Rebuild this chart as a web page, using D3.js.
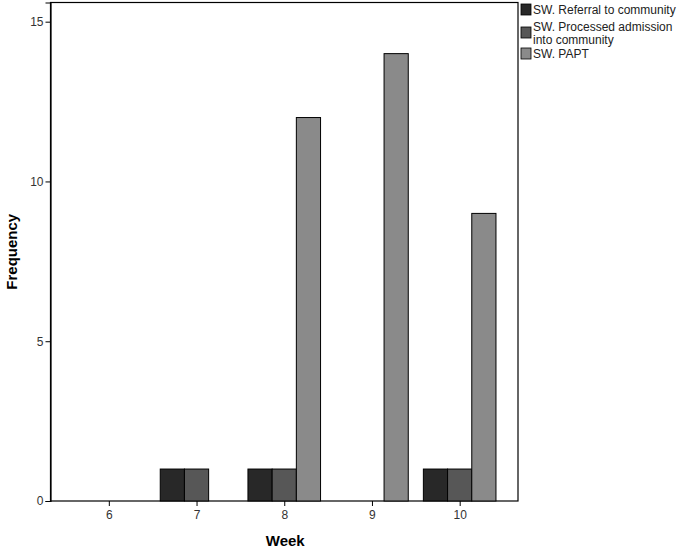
<!DOCTYPE html>
<html>
<head>
<meta charset="utf-8">
<script src="https://cdn.jsdelivr.net/npm/d3@7"></script>
<style>
  body { margin: 0; background: #fff; }
  text { font-family: Arial, "Liberation Sans", sans-serif; }
</style>
</head>
<body>
<div id="chart"></div>
<script>
// data
const weeks = ["6", "7", "8", "9", "10"];
const seriesNames = ["SW. Referral to community", "SW. Processed admission into community", "SW. PAPT"];
const referral = [0, 1, 1, 0, 1];
const processed = [0, 1, 1, 0, 1];
const papt = [0, 0, 12, 14, 9];
const yTicks = [0, 5, 10, 15];
const seriesColors = ["#282828", "#575757", "#8a8a8a"];

let width = 682;
let height = 552;
let margin = { left: 50.5, top: 2.5, right: 164, bottom: 51 };
let plotRight = width - margin.right; // ~518
let plotBottom = height - margin.bottom; // 501

let svg = d3.select("#chart").append("svg")
  .attr("width", width)
  .attr("height", height);

const x = d3.scalePoint()
  .domain(weeks)
  .range([margin.left, plotRight])
  .padding(0.665);

const y = d3.scaleLinear()
  .domain([0, 15.6])
  .range([plotBottom, margin.top]);

const barW = 24.2;
const allSeries = [referral, processed, papt];

// frame around plot
svg.append("rect")
  .attr("x", margin.left)
  .attr("y", margin.top)
  .attr("width", plotRight - margin.left)
  .attr("height", plotBottom - margin.top)
  .attr("fill", "none")
  .attr("stroke", "#000")
  .attr("stroke-width", 1.2);

// bars
allSeries.forEach((vals, s) => {
  svg.append("g")
    .selectAll("rect")
    .data(vals.map((v, i) => ({ week: weeks[i], value: v })).filter(d => d.value > 0))
    .join("rect")
    .attr("x", d => x(d.week) + (s - 1.5) * barW)
    .attr("y", d => y(d.value))
    .attr("width", barW)
    .attr("height", d => y(0) - y(d.value))
    .attr("fill", seriesColors[s])
    .attr("stroke", "#000")
    .attr("stroke-width", 1);
});

// y axis
let yAxis = svg.append("g")
  .attr("transform", `translate(${margin.left},0)`)
  .call(d3.axisLeft(y).tickValues(yTicks).tickSize(5).tickPadding(2));
yAxis.select(".domain").attr("stroke", "#000").attr("stroke-width", 1.2);
yAxis.selectAll("text").attr("font-size", 12).attr("fill", "#333").style("font-family", "Arial, 'Liberation Sans', sans-serif");

// x axis
let xAxis = svg.append("g")
  .attr("transform", `translate(0,${plotBottom})`)
  .call(d3.axisBottom(x).tickSize(5).tickPadding(4));
xAxis.select(".domain").remove();
xAxis.selectAll("text").attr("font-size", 12).attr("fill", "#333").style("font-family", "Arial, 'Liberation Sans', sans-serif");

// axis titles
svg.append("text")
  .attr("x", (margin.left + plotRight) / 2 + 1)
  .attr("y", 546)
  .attr("text-anchor", "middle")
  .attr("font-size", 15)
  .attr("font-weight", "bold")
  .text("Week");

svg.append("text")
  .attr("transform", `translate(17,${(margin.top + plotBottom) / 2}) rotate(-90)`)
  .attr("text-anchor", "middle")
  .attr("font-size", 15)
  .attr("font-weight", "bold")
  .text("Frequency");

// legend
let legendRows = [
  { lines: ["SW. Referral to community"], y: 4 },
  { lines: ["SW. Processed admission", "into community"], y: 27 },
  { lines: ["SW. PAPT"], y: 48 }
];
let legend = svg.append("g");
legendRows.forEach((r, i) => {
  legend.append("rect")
    .attr("x", 521)
    .attr("y", r.y)
    .attr("width", 10)
    .attr("height", 11)
    .attr("fill", seriesColors[i])
    .attr("stroke", "#000")
    .attr("stroke-width", 0.8);
  r.lines.forEach((t, j) => {
    legend.append("text")
      .attr("x", 533)
      .attr("y", r.y + 10 + j * 12.5 - (r.lines.length > 1 ? 6 : 0))
      .attr("font-size", 12)
      .attr("fill", "#222")
      .text(t);
  });
});
</script>
</body>
</html>
